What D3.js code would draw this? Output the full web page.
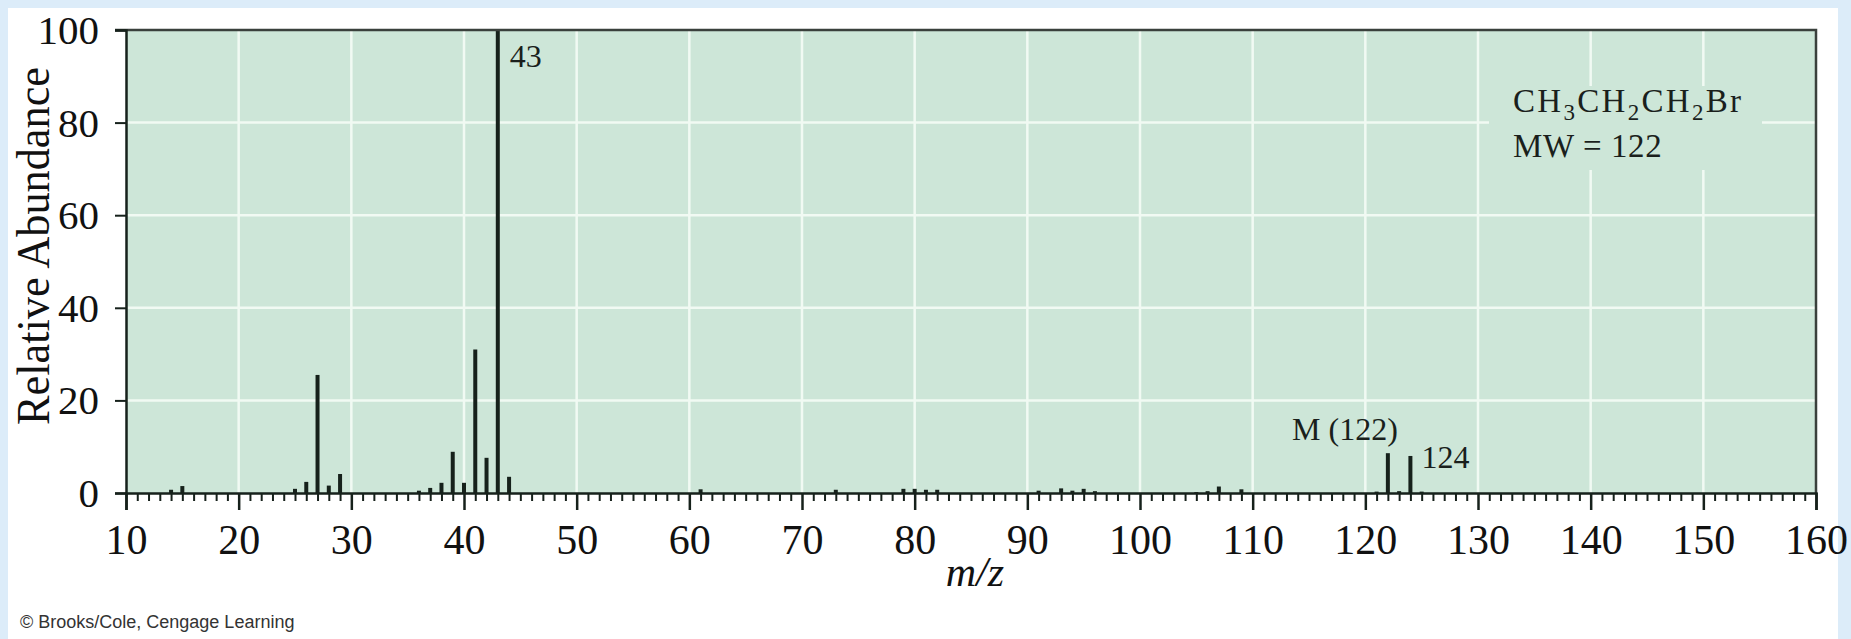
<!DOCTYPE html>
<html>
<head>
<meta charset="utf-8">
<script src="https://cdn.jsdelivr.net/npm/d3@7"></script>
<style>
  html, body { margin: 0; padding: 0; background: #dcecf9; }
  svg { display: block; }
</style>
</head>
<body>
<svg id="chart" width="1851" height="639"></svg>
<script>
// Mass spectrum of 1-bromopropane: m/z positions and relative abundances (%)
const mzValues   = [14, 15, 25, 26, 27, 28, 29, 36, 37, 38, 39, 40, 41, 42, 43, 44,
                    61, 73, 79, 80, 81, 82, 91, 93, 94, 95, 96, 105, 106, 107, 109,
                    121, 122, 123, 124, 125];
const abundances = [0.7, 1.5, 0.9, 2.4, 25.5, 1.6, 4.1, 0.5, 1.1, 2.2, 8.9, 2.2, 31, 7.6, 100, 3.5,
                    0.8, 0.7, 0.9, 0.9, 0.7, 0.7, 0.5, 1.0, 0.5, 0.9, 0.4, 0.2, 0.4, 1.4, 0.8,
                    0.3, 8.6, 0.4, 8.0, 0.3];

const xTickValues = [10, 20, 30, 40, 50, 60, 70, 80, 90, 100, 110, 120, 130, 140, 150, 160];
const yTickValues = [0, 20, 40, 60, 80, 100];

// Annotated peaks
const peakLabelMz   = [43, 122, 124];
const peakLabelText = ["43", "M (122)", "124"];

const formulaParts = [["CH", ""], ["3", "sub"], ["CH", ""], ["2", "sub"], ["CH", ""], ["2", "sub"], ["Br", ""]];
const formulaNote  = "MW = 122";

const serif = "'Liberation Serif', 'Times New Roman', serif";
const plotFill = "#cde6d8";
const gridColor = "#f1faf3";
const ink = "#16211b";

const svg = d3.select("#chart");

// white page panel inside the light blue frame
svg.append("rect")
  .attr("x", 8).attr("y", 8)
  .attr("width", 1830).attr("height", 639 - 8)
  .attr("fill", "#ffffff");

const x = d3.scaleLinear().domain([10, 160]).range([126, 1816]);
const y = d3.scaleLinear().domain([0, 100]).range([493, 30]);

// plot background
svg.append("rect")
  .attr("x", x(10)).attr("y", y(100))
  .attr("width", x(160) - x(10)).attr("height", y(0) - y(100))
  .attr("fill", plotFill);

// grid
const grid = svg.append("g").attr("stroke", gridColor).attr("stroke-width", 2.5);
grid.selectAll("line.v")
  .data(xTickValues.filter(d => d > 10 && d < 160))
  .join("line")
  .attr("class", "v")
  .attr("x1", d => x(d)).attr("x2", d => x(d))
  .attr("y1", y(100)).attr("y2", y(0));
grid.selectAll("line.h")
  .data(yTickValues.filter(d => d > 0 && d < 100))
  .join("line")
  .attr("class", "h")
  .attr("x1", x(10)).attr("x2", x(160))
  .attr("y1", d => y(d)).attr("y2", d => y(d));

// box behind the compound name, masking the grid
const fx = 1513, fy = 112;
svg.append("rect")
  .attr("x", fx - 24).attr("y", fy - 26)
  .attr("width", 273).attr("height", 84)
  .attr("fill", plotFill);

// peaks
svg.append("g")
  .selectAll("line")
  .data(mzValues.map((m, i) => ({ mz: m, ab: abundances[i] })))
  .join("line")
  .attr("x1", d => x(d.mz)).attr("x2", d => x(d.mz))
  .attr("y1", y(0)).attr("y2", d => y(d.ab))
  .attr("stroke", ink)
  .attr("stroke-width", 4);

// frame: top and right borders
svg.append("path")
  .attr("d", `M${x(10) - 11},${y(100)} H${x(160)} V${y(0)}`)
  .attr("fill", "none")
  .attr("stroke", "#3a403c")
  .attr("stroke-width", 2.5);

// x axis: minor ticks every unit, major ticks with labels
const minorValues = d3.range(10, 161).filter(d => d % 10 !== 0);
const xMinor = d3.axisBottom(x).tickValues(minorValues).tickSize(8).tickFormat("");
const xMajor = d3.axisBottom(x).tickValues(xTickValues).tickSize(17).tickPadding(14).tickFormat(d3.format("d"));

svg.append("g")
  .attr("transform", `translate(0,${y(0)})`)
  .call(xMinor)
  .call(g => g.select(".domain").remove())
  .call(g => g.selectAll("line").attr("stroke", ink).attr("stroke-width", 2));

const gx = svg.append("g")
  .attr("transform", `translate(0,${y(0)})`)
  .call(xMajor);
gx.select(".domain").attr("stroke", ink).attr("stroke-width", 2.5);
gx.selectAll("line").attr("stroke", ink).attr("stroke-width", 2.5);
gx.selectAll("text")
  .attr("fill", "#111")
  .style("font-family", serif)
  .style("font-size", "42px");

// y axis
const gy = svg.append("g")
  .attr("transform", `translate(${x(10)},0)`)
  .call(d3.axisLeft(y).tickValues(yTickValues).tickSize(11).tickPadding(16).tickFormat(d3.format("d")));
gy.select(".domain").attr("stroke", ink).attr("stroke-width", 2.5);
gy.selectAll("line").attr("stroke", ink).attr("stroke-width", 2);
gy.selectAll("text")
  .attr("fill", "#111")
  .attr("dy", "0.33em")
  .style("font-family", serif)
  .style("font-size", "41px");

// axis titles
svg.append("text")
  .attr("transform", "translate(49,246) rotate(-90)")
  .attr("text-anchor", "middle")
  .attr("textLength", 358)
  .attr("lengthAdjust", "spacingAndGlyphs")
  .attr("fill", "#111")
  .style("font-family", serif)
  .style("font-size", "47px")
  .text("Relative Abundance");

svg.append("text")
  .attr("x", (x(10) + x(160)) / 2 + 4)
  .attr("y", 586)
  .attr("text-anchor", "middle")
  .attr("fill", "#111")
  .style("font-family", serif)
  .style("font-style", "italic")
  .style("font-size", "42px")
  .text("m/z");

// peak annotations
const labels = svg.append("g")
  .attr("fill", "#1a1f1c")
  .style("font-family", serif)
  .style("font-size", "32px");
// base peak: right of the line, below the top
labels.append("text")
  .attr("x", x(peakLabelMz[0]) + 12)
  .attr("y", y(100) + 37)
  .text(peakLabelText[0]);
// molecular ion: above and left of the peak
labels.append("text")
  .attr("x", x(peakLabelMz[1]) + 10)
  .attr("y", y(abundances[mzValues.indexOf(peakLabelMz[1])]) - 13)
  .attr("text-anchor", "end")
  .text(peakLabelText[1]);
// M+2 isotope peak: to the right
labels.append("text")
  .attr("x", x(peakLabelMz[2]) + 11)
  .attr("y", y(abundances[mzValues.indexOf(peakLabelMz[2])]) + 12)
  .text(peakLabelText[2]);

// compound name and molecular weight
const formula = svg.append("text")
  .attr("x", fx).attr("y", fy)
  .attr("fill", "#1a1f1c")
  .style("font-family", serif)
  .style("font-size", "33px")
  .style("letter-spacing", "2.3px");
formulaParts.forEach(([t, kind], i) => {
  const ts = formula.append("tspan").text(t);
  if (kind === "sub") {
    ts.attr("dy", 8).style("font-size", "23px");
  } else if (i > 0) {
    ts.attr("dy", -8);
  }
});
svg.append("text")
  .attr("x", fx).attr("y", fy + 45)
  .attr("fill", "#1a1f1c")
  .style("font-family", serif)
  .style("font-size", "33px")
  .style("letter-spacing", "0.6px")
  .text(formulaNote);

// credit line
svg.append("text")
  .attr("x", 20).attr("y", 628)
  .attr("fill", "#333")
  .style("font-family", "'Liberation Sans', Arial, sans-serif")
  .style("font-size", "18px")
  .text("© Brooks/Cole, Cengage Learning");
</script>
</body>
</html>
